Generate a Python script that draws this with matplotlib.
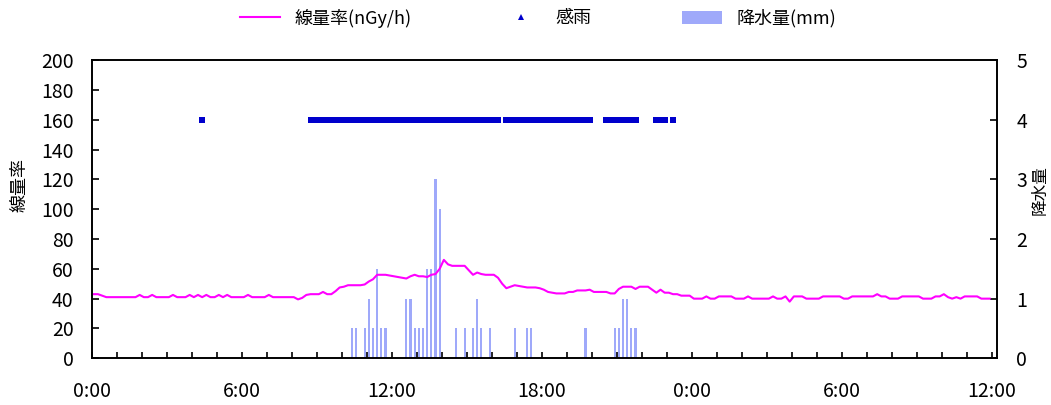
import numpy as np
import matplotlib
matplotlib.use('Agg')
import matplotlib.pyplot as plt
from matplotlib.lines import Line2D
from matplotlib.patches import Patch

plt.rcParams['font.family'] = ['Noto Sans CJK JP', 'DejaVu Sans']

# 10-minute dose rate (nGy/h), one row per hour, starting 0:00 on day 1
dose_rate = [
    [43, 43, 42, 41, 41, 41],          # 0:00
    [41, 41, 41, 41, 41, 42.5],
    [41, 41, 42.5, 41, 41, 41],
    [41, 42.5, 41, 41, 41, 42.5],
    [41, 42.5, 41, 42.5, 41, 41],
    [42.5, 41, 42.5, 41, 41, 41],
    [41, 42.5, 41, 41, 41, 41],        # 6:00
    [42.5, 41, 41, 41, 41, 41],
    [41, 39.5, 40.5, 42.5, 43, 43],
    [43, 44.5, 43, 43, 45, 47.5],
    [48, 49, 49, 49, 49, 49.5],
    [51.5, 53, 56, 56, 56, 55.5],
    [55, 54.5, 54, 53.5, 55, 56],      # 12:00
    [55, 55, 54.5, 56, 56.5, 60],
    [66, 63, 62, 62, 62, 62],
    [59, 56, 57.5, 56.5, 56, 56],
    [56, 54, 50, 47, 48, 49],
    [48.5, 48, 47.5, 47.5, 47.5, 47],
    [46, 44.5, 44, 43.5, 43.5, 43.5],  # 18:00
    [44.5, 44.5, 45.5, 45.5, 45.5, 46],
    [44.5, 44.5, 44.5, 44.5, 43.5, 43.5],
    [46.5, 48, 48, 48, 46.5, 48],
    [48, 48, 46, 44, 46, 44],
    [44, 43, 43, 42, 42, 42],
    [40, 40, 40, 41.5, 40, 40],        # 0:00 day 2
    [41.5, 41.5, 41.5, 41.5, 40, 40],
    [40, 41.5, 40, 40, 40, 40],
    [40, 41.5, 40, 40, 41.5, 38],
    [41.5, 41.5, 41.5, 40, 40, 40],
    [40, 41.5, 41.5, 41.5, 41.5, 41.5],
    [40, 40, 41.5, 41.5, 41.5, 41.5],  # 6:00
    [41.5, 41.5, 43, 41.5, 41.5, 40],
    [40, 40, 41.5, 41.5, 41.5, 41.5],
    [41.5, 40, 40, 40, 41.5, 41.5],
    [43, 41, 40, 41, 40, 41.5],
    [41.5, 41.5, 41.5, 40, 40, 40],
]

# rain sensor (1 = rain detected in that 10-minute slot), one string per hour
rain_flags = [
    "000000", "000000", "000000", "000000", "001000", "000000",
    "000000", "000000", "000011", "111111", "111111", "111111",
    "111111", "111111", "111111", "111111", "110111", "111111",
    "111111", "111111", "000111", "111110", "000111", "010000",
    "000000", "000000", "000000", "000000", "000000", "000000",
    "000000", "000000", "000000", "000000", "000000", "000000",
]

# 10-minute precipitation (mm)
precip_times = [
    "10:20", "10:30", "10:50", "11:00", "11:10", "11:20", "11:30", "11:40",
    "12:30", "12:40", "12:50", "13:00", "13:10", "13:20", "13:30", "13:40", "13:50",
    "14:30", "14:50", "15:10", "15:20", "15:30", "15:50",
    "16:50", "17:20", "17:30", "19:40",
    "20:50", "21:00", "21:10", "21:20", "21:30", "21:40",
]
precip_mm = [
    0.5, 0.5, 0.5, 1.0, 0.5, 1.5, 0.5, 0.5,
    1.0, 1.0, 0.5, 0.5, 0.5, 1.5, 1.5, 3.0, 2.5,
    0.5, 0.5, 0.5, 1.0, 0.5, 0.5,
    0.5, 0.5, 0.5, 0.5,
    0.5, 0.5, 1.0, 1.0, 0.5, 0.5,
]

xtick_labels = ['0:00', '6:00', '12:00', '18:00', '0:00', '6:00', '12:00']


def to_hours(s):
    h, m = s.split(':')
    return int(h) + int(m) / 60


rate = np.array(dose_rate, dtype=float).ravel()
# each value is plotted at the middle of its 10-minute slot
t_rate = np.arange(rate.size) / 6 + 1 / 12
rain = np.array([c == '1' for row in rain_flags for c in row])
t_precip = np.array([to_hours(s) for s in precip_times]) + 1 / 12

fig = plt.figure(figsize=(10.51, 4.05), dpi=100)
ax = fig.add_axes([0.0873, 0.1153, 0.8611, 0.7365])
ax2 = ax.twinx()

ax2.bar(t_precip, precip_mm, width=0.09, color='#9FA9FA', linewidth=0)

ax.set_zorder(ax2.get_zorder() + 1)
ax.patch.set_visible(False)
ax.plot(t_rate, rate, color='#FF00FF', lw=1.5)
ax.plot(t_rate[rain], np.full(rain.sum(), 160), ls='none', marker='s',
        ms=4.5, mew=0, color='#0000CC')

ax.set_xlim(0, 36.2)
ax.set_ylim(0, 200)
ax2.set_ylim(0, 5)

ax.set_xticks(np.arange(0, 37, 6))
ax.set_xticklabels(xtick_labels)
ax.set_xticks(np.arange(0, 37, 1), minor=True)
ax.set_yticks(np.arange(0, 201, 20))
ax2.set_yticks(np.arange(0, 6, 1))

ax.tick_params(axis='x', which='both', direction='in', length=4, width=1.2,
               labelsize=14, pad=16, top=False)
ax.tick_params(axis='y', direction='in', length=5, width=1.2, labelsize=14, pad=13)
ax2.tick_params(axis='y', direction='in', length=5, width=1.2, labelsize=14, pad=14)
ax2.tick_params(axis='x', which='both', bottom=False, top=False)

for a in (ax, ax2):
    for sp in a.spines.values():
        sp.set_linewidth(1.2)
        sp.set_color('black')

fig.text(20 / 1051, 1 - 185 / 405, '線量率', rotation=90, ha='center', va='center', fontsize=13)
fig.text(1040 / 1051, 1 - 190 / 405, '降水量', rotation=90, ha='center', va='center', fontsize=12)

handles = [
    Line2D([], [], color='#FF00FF', lw=1.5),
    Line2D([], [], ls='none', marker='^', ms=5, mew=0, color='#0000CC'),
    Patch(facecolor='#9FA9FA', edgecolor='none'),
]
labels = ['線量率(nGy/h)', '感雨', '降水量(mm)']
fig.legend(handles, labels, loc='center', bbox_to_anchor=(538 / 1051, 1 - 18 / 405),
           ncol=3, frameon=False, fontsize=13, handlelength=2.2,
           handletextpad=0.8, columnspacing=5)

fig.savefig('out.png', dpi=100)
